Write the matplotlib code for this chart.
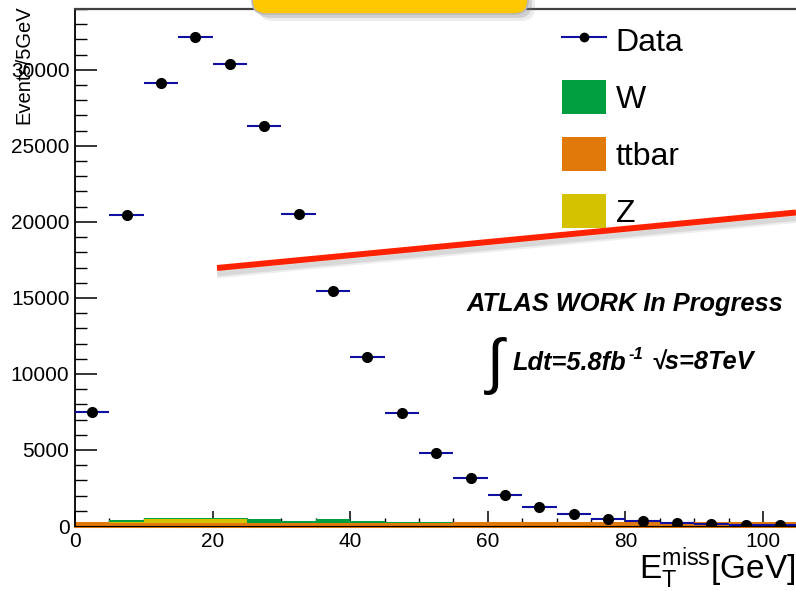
import matplotlib
matplotlib.use("Agg")
import matplotlib.pyplot as plt
from matplotlib.lines import Line2D
from matplotlib.patches import Patch, FancyBboxPatch
from matplotlib.ticker import MultipleLocator
from matplotlib.transforms import IdentityTransform

plt.rcParams["font.family"] = ["Liberation Sans", "DejaVu Sans"]
plt.rcParams["mathtext.fontset"] = "custom"
plt.rcParams["mathtext.rm"] = "Liberation Sans"

# --- data: 5 GeV bins of missing E_T ---
bin_lefts = [0, 5, 10, 15, 20, 25, 30, 35, 40, 45, 50,
             55, 60, 65, 70, 75, 80, 85, 90, 95, 100]
bin_centers = [2.5, 7.5, 12.5, 17.5, 22.5, 27.5, 32.5, 37.5, 42.5, 47.5, 52.5,
               57.5, 62.5, 67.5, 72.5, 77.5, 82.5, 87.5, 92.5, 97.5, 102.5]
data_counts = [7500, 20460, 29150, 32180, 30400, 26320, 20530, 15460, 11120, 7430, 4820,
               3140, 2040, 1250, 810, 480, 310, 180, 110, 50, 50]
ttbar_counts = [180, 180, 180, 180, 180, 180, 180, 180, 180, 180, 180,
                180, 180, 180, 180, 180, 180, 180, 180, 180, 180]
z_counts = [0, 100, 260, 260, 260, 0, 0, 0, 0, 0, 0,
            0, 0, 0, 0, 0, 0, 0, 0, 0, 0]
w_counts = [0, 90, 70, 70, 70, 260, 170, 260, 170, 65, 65,
            37, 37, 10, 5, 0, 0, 0, 0, 0, 0]
bin_width = 5

W_COLOR = "#009e3f"
TT_COLOR = "#e0780a"
Z_COLOR = "#d4c200"
DATA_BAR = "#1010a0"

W, H = 796, 591


def px(x, y):
    """Pixel position (from top-left) -> figure fraction."""
    return x / W, 1 - y / H


fig = plt.figure(figsize=(W / 100, H / 100), dpi=100)
ax = fig.add_axes([75 / W, 1 - 526 / H, 1 - 75 / W, (526 - 9) / H])

# stacked backgrounds: ttbar, Z, W
ax.bar(bin_lefts, ttbar_counts, width=bin_width, align="edge",
       color=TT_COLOR, edgecolor=TT_COLOR, linewidth=2.2, clip_on=False)
z_bottom = ttbar_counts
ax.bar(bin_lefts, z_counts, width=bin_width, align="edge", bottom=z_bottom,
       color=Z_COLOR, linewidth=0)
w_bottom = [t + z for t, z in zip(ttbar_counts, z_counts)]
ax.bar(bin_lefts, w_counts, width=bin_width, align="edge", bottom=w_bottom,
       color=W_COLOR, linewidth=0)

# data points
ax.errorbar(bin_centers, data_counts, xerr=bin_width / 2, fmt="o",
            color="black", ecolor=DATA_BAR, elinewidth=1.5, markersize=7,
            capsize=0, zorder=5)

ax.set_xlim(0, 104.8)
ax.set_ylim(0, 34000)
ax.set_axisbelow(True)

ax.xaxis.set_major_locator(MultipleLocator(20))
ax.xaxis.set_minor_locator(MultipleLocator(5))
ax.yaxis.set_major_locator(MultipleLocator(5000))
ax.yaxis.set_minor_locator(MultipleLocator(1000))
ax.tick_params(axis="y", which="major", direction="in", length=16, width=1.1,
               labelsize=15, pad=4)
ax.tick_params(axis="y", which="minor", direction="in", length=8.5, width=1.0)
ax.tick_params(axis="x", which="major", direction="in", length=11, width=1.1,
               labelsize=15, pad=4)
ax.tick_params(axis="x", which="minor", direction="in", length=5.5, width=1.0)

ax.spines["right"].set_visible(False)
ax.spines["top"].set_color("#404040")
ax.spines["top"].set_linewidth(1.6)
ax.spines["left"].set_linewidth(1.3)

ax.set_xlabel(r"$\mathrm{E}_{\mathrm{T}}^{\mathrm{miss}}$[GeV]", loc="right",
              fontsize=24, va="baseline")
ax.xaxis.set_label_coords(1.0, -(578 - 526) / 517)
ax.set_ylabel("Events/5GeV", loc="top", fontsize=14.5)
ax.yaxis.set_label_coords(-0.058, 1 + 4 / 517)

# legend
handles = [
    Line2D([], [], color=DATA_BAR, lw=1.5, marker="o", markersize=6,
           markerfacecolor="black", markeredgecolor="black"),
    Patch(facecolor=W_COLOR),
    Patch(facecolor=TT_COLOR),
    Patch(facecolor=Z_COLOR),
]
fs = 23
fs_px = fs * 100 / 72
ax.legend(handles, ["Data", "W", "ttbar", "Z"], loc="upper left",
          bbox_to_anchor=px(562, 23), bbox_transform=fig.transFigure,
          frameon=False, fontsize=fs, borderpad=0, borderaxespad=0,
          handlelength=44 / fs_px, handleheight=41 / fs_px,
          handletextpad=0.3, labelspacing=(63 - 41) / fs_px)

# ATLAS label
bi = dict(fontweight="bold", fontstyle="italic")
fig.text(*px(624.5, 311.5), "ATLAS WORK In Progress", ha="center",
         va="baseline", fontsize=18.3, **bi)
fig.text(*px(487, 382), "\u222b", ha="left", va="baseline", fontsize=44)

# luminosity line, built from pieces so the superscript stays bold italic
renderer = fig.canvas.get_renderer()
t1 = fig.text(*px(513, 370), "Ldt=5.8fb", ha="left", va="baseline",
              fontsize=18.3, **bi)
x_end = t1.get_window_extent(renderer).x1
t2 = fig.text(*px(x_end + 2, 359), "-1", ha="left", va="baseline",
              fontsize=12, **bi)
x_end = t2.get_window_extent(renderer).x1
fig.text(*px(x_end + 8, 370), "\u221as=8TeV", ha="left", va="baseline",
         fontsize=18.3, **bi)

# red line overlay with soft shadow
x0, y0 = px(217, 268)
x1, y1 = px(796, 212.5)
for off, alpha in [(7, 0.12), (5, 0.2)]:
    fig.add_artist(Line2D([x0, x1], [y0 - off / H, y1 - off / H], color="gray",
                          alpha=alpha, lw=5, solid_capstyle="butt",
                          transform=fig.transFigure))
fig.add_artist(Line2D([x0, x1], [y0, y1], color="#ff2200", lw=4.3,
                      solid_capstyle="butt", transform=fig.transFigure))

# yellow title box at top (cut off by the frame)
for off, alpha in [(7, 0.15), (4, 0.25)]:
    fig.add_artist(FancyBboxPatch((252 + off, H - 14 - off), 276, 80,
                                  boxstyle="round,pad=0,rounding_size=14",
                                  facecolor="gray", edgecolor="none",
                                  alpha=alpha, transform=IdentityTransform()))
fig.add_artist(FancyBboxPatch((252, H - 14), 276, 80,
                              boxstyle="round,pad=0,rounding_size=14",
                              facecolor="#ffc800", edgecolor="#b8b8b8",
                              linewidth=1.2, transform=IdentityTransform()))

fig.savefig("out.png", dpi=100)
